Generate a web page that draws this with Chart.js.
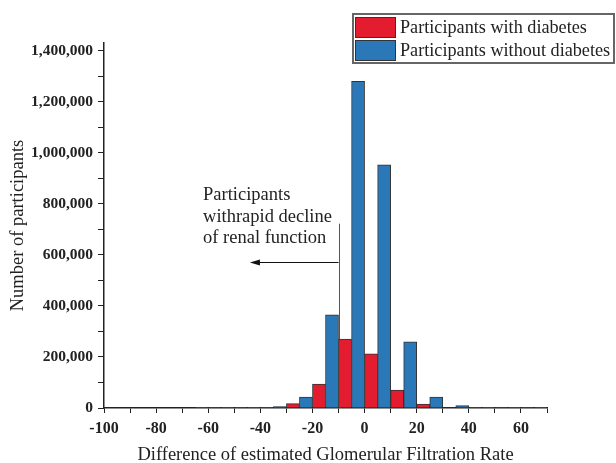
<!DOCTYPE html>
<html>
<head>
<meta charset="utf-8">
<script src="https://cdn.jsdelivr.net/npm/chart.js@4/dist/chart.umd.min.js"></script>
<style>
  html, body { margin: 0; padding: 0; background: #fff; }
  #wrap { width: 616px; height: 463px; }
</style>
</head>
<body>
<div id="wrap"><canvas id="myChart" width="616" height="463"></canvas></div>
<script>
const binCenters = [-95, -85, -75, -65, -55, -45, -35, -25, -15, -5, 5, 15, 25, 35, 45, 55, 65]
const withDiabetes = [0, 0, 0, 0, 100, 500, 3000, 17000, 94000, 270000, 212000, 70000, 15000, 2000, 600, 200, 100]
const withoutDiabetes = [0, 0, 0, 100, 300, 1500, 6000, 43000, 365000, 1280000, 953000, 259000, 43000, 9000, 2500, 800, 300]
const xTicks = [-100, -90, -80, -70, -60, -50, -40, -30, -20, -10, 0, 10, 20, 30, 40, 50, 60, 70]
const yTicks = [0, 100000, 200000, 300000, 400000, 500000, 600000, 700000, 800000, 900000, 1000000, 1100000, 1200000, 1300000, 1400000]
const noteLines = ['Participants', 'withrapid decline', 'of renal function']

const serif = '"Liberation Serif", "Times New Roman", serif'
const red = '#E31D2F'
const blue = '#2A78B8'

const toPoints = vals => vals.map((v, i) => ({ x: binCenters[i], y: v }))

// arrow + text annotation, placed in data units
const notePlugin = {
  id: 'note',
  beforeDatasetsDraw(chart) {
    const ctx = chart.ctx
    const x = chart.scales.x, y = chart.scales.y
    ctx.save()
    ctx.strokeStyle = '#555'
    ctx.lineWidth = 1
    ctx.beginPath()
    ctx.moveTo(Math.round(x.getPixelForValue(-10)) + 0.5, y.getPixelForValue(722000))
    ctx.lineTo(Math.round(x.getPixelForValue(-10)) + 0.5, y.getPixelForValue(0))
    ctx.stroke()
    ctx.restore()
  },
  afterDatasetsDraw(chart) {
    const ctx = chart.ctx
    const x = chart.scales.x, y = chart.scales.y
    ctx.save()
    const ay = Math.round(y.getPixelForValue(572000)) + 0.5
    const x1 = x.getPixelForValue(-10)
    const x2 = x.getPixelForValue(-44)
    ctx.strokeStyle = '#111'
    ctx.fillStyle = '#111'
    ctx.lineWidth = 1
    ctx.beginPath()
    ctx.moveTo(x1, ay)
    ctx.lineTo(x2 + 6, ay)
    ctx.stroke()
    ctx.beginPath()
    ctx.moveTo(x2, ay)
    ctx.lineTo(x2 + 10, ay - 3)
    ctx.lineTo(x2 + 10, ay + 3)
    ctx.closePath()
    ctx.fill()

    ctx.font = '18.5px ' + serif
    ctx.fillStyle = '#222'
    ctx.textBaseline = 'alphabetic'
    const baseY = [816000, 729000, 647000]
    noteLines.forEach((t, i) => {
      ctx.fillText(t, x.getPixelForValue(-62), y.getPixelForValue(baseY[i]))
    })
    ctx.restore()
  }
}

// boxed legend at the top right
const boxLegend = {
  id: 'boxLegend',
  afterDraw(chart) {
    const ctx = chart.ctx
    ctx.save()
    ctx.strokeStyle = '#666'
    ctx.lineWidth = 2
    ctx.strokeRect(353, 14, 261, 49)
    ctx.font = '18.2px ' + serif
    ctx.textBaseline = 'middle'
    chart.data.datasets.forEach((ds, i) => {
      const top = 17 + i * 23
      ctx.fillStyle = ds.backgroundColor
      ctx.fillRect(355, top, 41, 21)
      ctx.strokeStyle = '#333'
      ctx.lineWidth = 1
      ctx.strokeRect(355.5, top + 0.5, 40, 20)
      ctx.fillStyle = '#222'
      ctx.fillText(ds.label, 400, top + 11)
    })
    ctx.restore()
  }
}

const myChart = new Chart(document.getElementById('myChart').getContext('2d'), {
  type: 'bar',
  data: {
    datasets: [
      {
        label: 'Participants with diabetes',
        data: toPoints(withDiabetes),
        backgroundColor: red,
        borderColor: '#333',
        borderWidth: 1
      },
      {
        label: 'Participants without diabetes',
        data: toPoints(withoutDiabetes),
        backgroundColor: blue,
        borderColor: '#333',
        borderWidth: 1
      }
    ]
  },
  options: {
    responsive: false,
    animation: false,
    barPercentage: 1,
    categoryPercentage: 1,
    layout: { padding: { top: 43, right: 69, left: 0, bottom: 0 } },
    plugins: {
      legend: { display: false },
      tooltip: { enabled: false }
    },
    scales: {
      x: {
        type: 'linear',
        min: -100,
        max: 70,
        offset: false,
        afterFit(scale) { scale.height = 55 },
        afterBuildTicks(scale) { scale.ticks = xTicks.map(v => ({ value: v })) },
        border: { color: '#222', width: 1.5 },
        grid: { drawOnChartArea: false, tickLength: 5, tickColor: '#222', offset: false },
        ticks: {
          color: '#222',
          padding: 6,
          maxRotation: 0,
          autoSkip: false,
          font: { family: serif, size: 16, weight: 'bold' },
          callback: v => (v % 20 === 0 ? String(v) : '')
        },
        title: {
          display: true,
          text: 'Difference of estimated Glomerular Filtration Rate',
          color: '#222',
          font: { family: serif, size: 18.5, lineHeight: 1 },
          padding: { top: 0, bottom: -1 }
        }
      },
      y: {
        min: 0,
        max: 1430000,
        afterFit(scale) { scale.width = 104 },
        afterBuildTicks(scale) { scale.ticks = yTicks.map(v => ({ value: v })) },
        border: { color: '#222', width: 1.5 },
        grid: { drawOnChartArea: false, tickLength: 6, tickColor: '#222' },
        ticks: {
          color: '#222',
          padding: 5,
          autoSkip: false,
          font: { family: serif, size: 15.5, weight: 'bold' },
          callback: v => (v % 200000 === 0 ? v.toLocaleString('en-US') : '')
        },
        title: {
          display: true,
          text: 'Number of participants',
          color: '#222',
          font: { family: serif, size: 18.5 },
          padding: { top: 7, bottom: 0 }
        }
      }
    }
  },
  plugins: [notePlugin, boxLegend]
})
</script>
</body>
</html>
